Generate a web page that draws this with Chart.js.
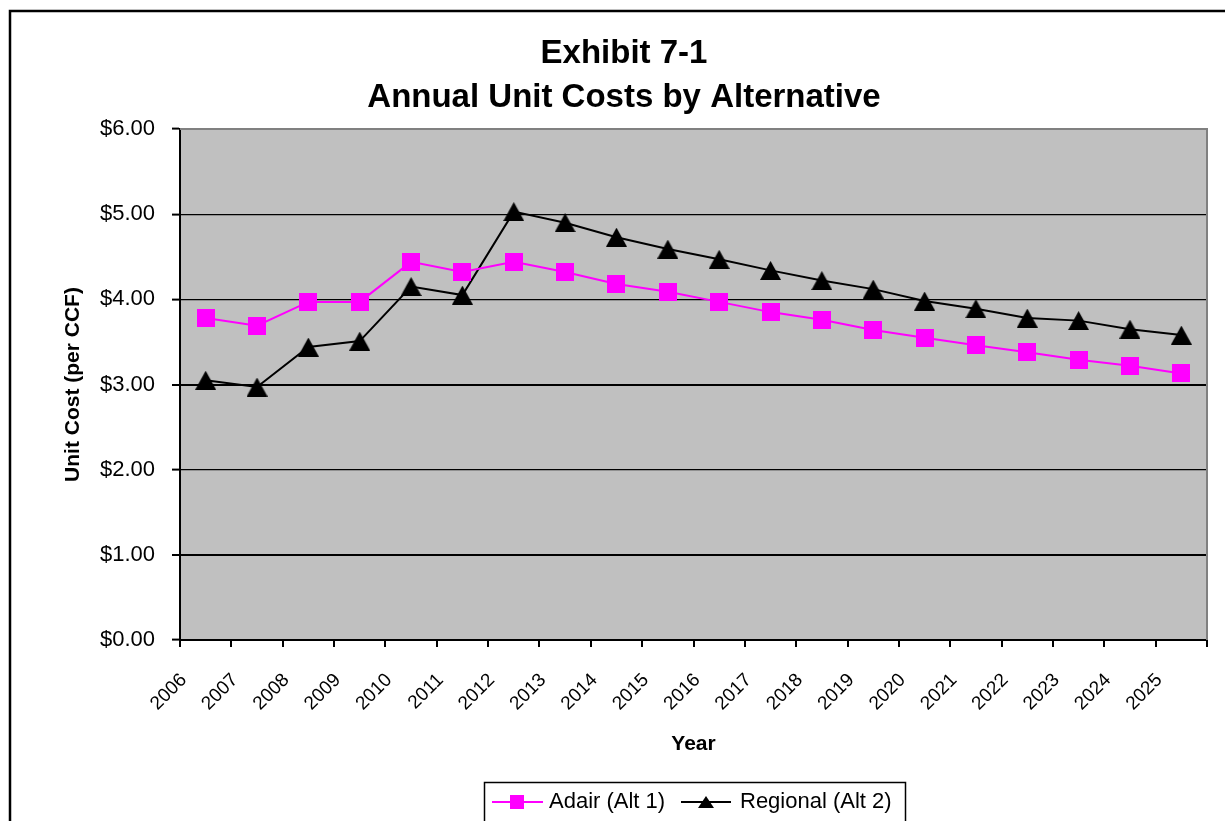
<!DOCTYPE html>
<html>
<head>
<meta charset="utf-8">
<title>Exhibit 7-1 Annual Unit Costs by Alternative</title>
<script src="https://cdn.jsdelivr.net/npm/chart.js@4/dist/chart.umd.min.js"></script>
<style>
  html, body { margin: 0; padding: 0; background: #fff; overflow: hidden; }
  #wrap { position: relative; width: 1225px; height: 821px; }
</style>
</head>
<body>
<div id="wrap"><canvas id="chart" width="1225" height="821"></canvas></div>
<script>
// ---- data ----
const years = ['2006','2007','2008','2009','2010','2011','2012','2013','2014','2015',
               '2016','2017','2018','2019','2020','2021','2022','2023','2024','2025'];
const adairAlt1 = [3.78, 3.69, 3.97, 3.97, 4.44, 4.32, 4.44, 4.32, 4.18, 4.09,
                   3.97, 3.85, 3.76, 3.64, 3.55, 3.46, 3.38, 3.29, 3.22, 3.13];
const regionalAlt2 = [3.05, 2.97, 3.44, 3.51, 4.15, 4.05, 5.03, 4.90, 4.73, 4.59,
                      4.47, 4.34, 4.22, 4.12, 3.98, 3.89, 3.78, 3.75, 3.65, 3.58];
const seriesNames = ['Adair (Alt 1)', 'Regional (Alt 2)'];
const titleLines = ['Exhibit 7-1', 'Annual Unit Costs by Alternative'];
const xAxisTitle = 'Year';
const yAxisTitle = 'Unit Cost (per CCF)';
const yTicks = { min: 0, max: 6, step: 1 };

const FONT = '"Liberation Sans", Arial, Helvetica, sans-serif';
const PINK = '#FF00FF';
const BLACK = '#000000';

// marker images, centred on their data point
function squareMarker(size, color) {
  const c = document.createElement('canvas');
  c.width = size; c.height = size;
  const g = c.getContext('2d');
  g.fillStyle = color; g.fillRect(0, 0, size, size);
  return c;
}
function triangleMarker(w, h, color) {
  const c = document.createElement('canvas');
  c.width = w; c.height = h;
  const g = c.getContext('2d');
  g.fillStyle = color;
  g.beginPath(); g.moveTo(w / 2, 0); g.lineTo(w, h); g.lineTo(0, h); g.closePath(); g.fill();
  return c;
}
const squareImg = squareMarker(18, PINK);
const triangleImg = triangleMarker(21, 19, BLACK);

// background, plot frame, title and legend
const decor = {
  id: 'decor',
  beforeDraw(chart) {
    const { ctx, chartArea: a } = chart;
    ctx.save();
    ctx.fillStyle = '#fff';
    ctx.fillRect(0, 0, chart.width, chart.height);
    ctx.fillStyle = '#C0C0C0';
    ctx.fillRect(a.left, a.top, a.right - a.left, a.bottom - a.top);
    ctx.restore();
  },
  beforeDatasetsDraw(chart) {
    const { ctx, chartArea: a } = chart;
    ctx.save();
    ctx.strokeStyle = '#808080';
    ctx.lineWidth = 2;
    ctx.beginPath();
    ctx.moveTo(a.left, a.top);
    ctx.lineTo(a.right, a.top);
    ctx.lineTo(a.right, a.bottom);
    ctx.stroke();
    ctx.restore();
  },
  afterDraw(chart) {
    const { ctx } = chart;
    ctx.save();
    // outer frame
    ctx.strokeStyle = BLACK;
    ctx.lineWidth = 2.5;
    ctx.strokeRect(10, 11, 1400, 1000);

    // title
    ctx.fillStyle = BLACK;
    ctx.textAlign = 'center';
    ctx.textBaseline = 'alphabetic';
    ctx.font = 'bold 33px ' + FONT;
    ctx.fillText(titleLines[0], 624, 63);
    ctx.fillText(titleLines[1], 624, 107);

    // legend
    ctx.lineWidth = 1.5;
    ctx.strokeRect(484.5, 782.5, 421, 60);
    const ds = chart.data.datasets;
    const midY = 802;
    ctx.font = '22px ' + FONT;
    ctx.textAlign = 'left';
    ctx.textBaseline = 'middle';
    // series 1
    ctx.strokeStyle = ds[0].borderColor; ctx.lineWidth = 2;
    ctx.beginPath(); ctx.moveTo(492, midY); ctx.lineTo(543, midY); ctx.stroke();
    ctx.fillStyle = ds[0].borderColor;
    ctx.fillRect(510, midY - 7, 14, 14);
    ctx.fillStyle = BLACK;
    ctx.fillText(ds[0].label, 549, midY);
    // series 2
    ctx.strokeStyle = ds[1].borderColor;
    ctx.beginPath(); ctx.moveTo(681, midY); ctx.lineTo(731, midY); ctx.stroke();
    ctx.fillStyle = ds[1].borderColor;
    ctx.beginPath(); ctx.moveTo(706, midY - 6); ctx.lineTo(714, midY + 6); ctx.lineTo(698, midY + 6); ctx.closePath(); ctx.fill();
    ctx.fillStyle = BLACK;
    ctx.fillText(ds[1].label, 740, midY);
    ctx.restore();
  }
};

new Chart(document.getElementById('chart'), {
  type: 'line',
  data: {
    labels: years,
    datasets: [
      {
        label: seriesNames[0],
        data: adairAlt1,
        borderColor: PINK,
        backgroundColor: PINK,
        borderWidth: 2,
        pointStyle: squareImg,
        pointRadius: 9,
        tension: 0
      },
      {
        label: seriesNames[1],
        data: regionalAlt2,
        borderColor: BLACK,
        backgroundColor: BLACK,
        borderWidth: 2,
        pointStyle: triangleImg,
        pointRadius: 9,
        tension: 0
      }
    ]
  },
  options: {
    responsive: false,
    animation: false,
    events: [],
    layout: { padding: { top: 129, right: 18, left: 57, bottom: 60 } },
    plugins: {
      legend: { display: false },
      title: { display: false },
      tooltip: { enabled: false }
    },
    scales: {
      x: {
        type: 'category',
        offset: true,
        grid: {
          display: true, drawOnChartArea: false, drawTicks: true, offset: true,
          tickLength: 7, color: BLACK, lineWidth: 2
        },
        border: { display: true, color: BLACK, width: 2 },
        ticks: {
          autoSkip: false, maxRotation: 45, minRotation: 45,
          labelOffset: -22, padding: 22,
          font: { family: FONT, size: 19 }, color: BLACK
        },
        title: {
          display: true, text: xAxisTitle, color: BLACK,
          font: { family: FONT, size: 21, weight: 'bold' },
          padding: { top: 4, bottom: 4 }
        },
        afterFit(scale) { scale.height = 121; }
      },
      y: {
        min: yTicks.min, max: yTicks.max,
        ticks: {
          stepSize: yTicks.step,
          callback: v => '$' + Number(v).toFixed(2),
          padding: 17, color: BLACK,
          font: { family: FONT, size: 22 }
        },
        grid: {
          drawTicks: true, tickLength: 8, tickColor: BLACK, tickWidth: 2,
          color: c => (c.tick && c.tick.value === yTicks.max) ? '#808080' : BLACK,
          lineWidth: c => (c.tick && (c.tick.value === 1 || c.tick.value === 3)) ? 2 : 1.2
        },
        border: { display: true, color: BLACK, width: 2 },
        title: {
          display: true, text: yAxisTitle, color: BLACK,
          font: { family: FONT, size: 21, weight: 'bold' },
          padding: { top: 4, bottom: 4 }
        },
        afterFit(scale) { scale.width = 123; }
      }
    }
  },
  plugins: [decor]
});
</script>
</body>
</html>
